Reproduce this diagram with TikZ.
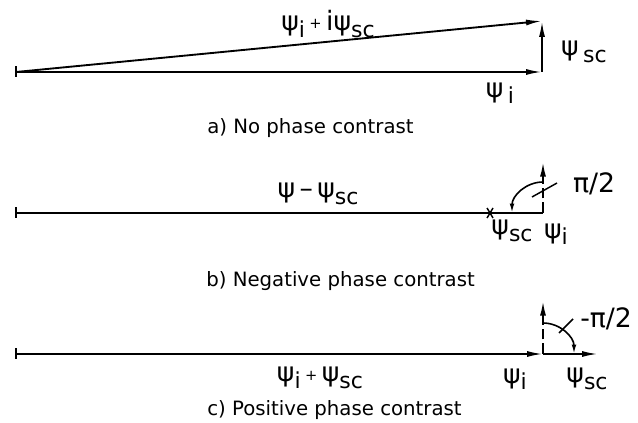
\documentclass[tikz,border=0pt]{standalone}
\usepackage{fontspec}
\setmainfont{DejaVu Sans}
\usetikzlibrary{arrows.meta}
\newcommand{\sbs}[1]{\raisebox{-0.45ex}{\fontsize{16.5}{16.5}\selectfont #1}}
\newcommand{\smallplus}{\raisebox{0.12ex}{\fontsize{11}{11}\selectfont +}}
\tikzset{
  vec/.style={line width=1.4pt,-{Latex[length=12pt,width=4.5pt]}},
  baseline/.style={line width=1.4pt},
  dvec/.style={line width=1.4pt,dash pattern=on 8pt off 3pt,-{Latex[length=11pt,width=4.5pt]}},
  ang/.style={line width=1.2pt,-{Latex[length=7pt,width=3.5pt]}},
  thinline/.style={line width=1.1pt},
  lab/.style={font=\fontsize{20}{20}\selectfont, inner sep=0pt},
  captext/.style={font=\fontsize{14.8}{15}\selectfont, inner sep=0pt, anchor=west}
}
\begin{document}
\begin{tikzpicture}[x=0.75pt,y=-0.75pt]
\useasboundingbox (0,0) rectangle (638,423);
% ---------- a) ----------
\coordinate (aO) at (16,72);
\coordinate (aI) at (542,72);
\coordinate (aT) at (542,21);
\draw[baseline] ([yshift=5.5*0.75pt]aO) -- ([yshift=-5.5*0.75pt]aO);
\draw[vec] (aO) -- (aI);
\draw[vec] (aI) -- (aT);
\draw[vec] (aO) -- (aT);
\node[lab] (la1) at (328,24) {ψ\sbs{i}\,\smallplus\,iψ\sbs{sc}};
\node[lab] (la2) at (584,52) {ψ\,\sbs{sc}};
\node[lab] (la3) at (500,93) {ψ\,\sbs{i}};
\node[captext] (capa) at (207,128) {a) No phase contrast};
% ---------- b) ----------
\coordinate (bO) at (16,213);
\coordinate (bE) at (543,213);
\coordinate (bX) at (490,213);
\coordinate (bT) at (543,162);
\draw[baseline] ([yshift=5.5*0.75pt]bO) -- ([yshift=-5.5*0.75pt]bO);
\draw[baseline] (bO) -- (bE);
\draw[thinline] ([shift={(-3,-5)}]bX) -- ([shift={(3,5)}]bX);
\draw[thinline] ([shift={(3,-5)}]bX) -- ([shift={(-3,5)}]bX);
\draw[dvec] (bE) -- (bT);
\draw[ang] ([yshift=31*0.75pt]bE) arc[start angle=270, end angle=180, radius=31];
\coordinate (bs1) at (532,197);
\coordinate (bs2) at (557,183);
\draw[thinline] (bs1) -- (bs2);
\node[lab] (lb1) at (318,194) {ψ\,–\,ψ\sbs{sc}};
\node[lab] (lb2) at (594,184) {π/2};
\node[lab] (lb3) at (512,231) {ψ\sbs{sc}};
\node[lab] (lb4) at (556,234) {ψ\sbs{i}};
\node[captext] (capb) at (206,281) {b) Negative phase contrast};
% ---------- c) ----------
\coordinate (cO) at (16,354);
\coordinate (cI) at (543,354);
\coordinate (cS) at (598,354);
\coordinate (cT) at (543,301);
\draw[baseline] ([yshift=5.5*0.75pt]cO) -- ([yshift=-5.5*0.75pt]cO);
\draw[vec] (cO) -- (cI);
\draw[vec] (cI) -- (cS);
\draw[dvec] (cI) -- (cT);
\draw[ang] ([yshift=31*0.75pt]cI) arc[start angle=270, end angle=360, radius=31];
\coordinate (cs1) at (559,333);
\coordinate (cs2) at (573,319);
\draw[thinline] (cs1) -- (cs2);
\node[lab] (lc1) at (320,378) {ψ\sbs{i}\,\smallplus\,ψ\sbs{sc}};
\node[lab] (lc2) at (515,379) {ψ\sbs{i}};
\node[lab] (lc3) at (587,379) {ψ\sbs{sc}};
\node[lab, anchor=west] (lc4) at (580,319) {-π/2};
\node[captext] (capc) at (207,410) {c) Positive phase contrast};
\end{tikzpicture}
\end{document}
